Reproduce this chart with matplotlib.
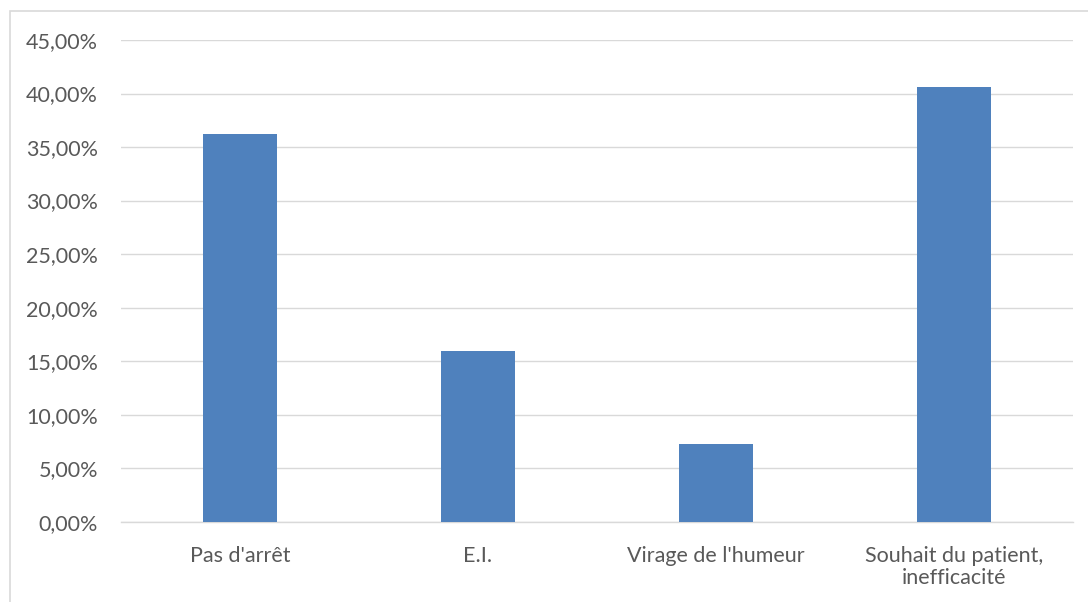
import matplotlib
matplotlib.use("Agg")
import matplotlib.pyplot as plt
from matplotlib.ticker import FuncFormatter, MultipleLocator
from matplotlib.patches import Rectangle

categories = ["Pas d'arrêt", "E.I.", "Virage de l'humeur", "Souhait du patient,\ninefficacité"]
values = [0.3623, 0.1594, 0.0725, 0.4058]

plt.rcParams['font.family'] = ['Lato', 'DejaVu Sans']

fig = plt.figure(figsize=(10.88, 6.02), dpi=100)
ax = fig.add_axes([121/1088, 80.3/602, (1073-121)/1088, (521.7-40)/602])

x = list(range(len(categories)))
ax.bar(x, values, width=0.314, color='#4F81BD', zorder=3)
ax.set_xlim(-0.5, len(categories) - 0.5)
ax.set_ylim(0, 0.45)
ax.yaxis.set_major_locator(MultipleLocator(0.05))
ax.yaxis.set_major_formatter(FuncFormatter(lambda v, p: f"{v*100:.2f}".replace('.', ',') + "%"))
ax.grid(axis='y', color='#D9D9D9', linewidth=1.0, zorder=0)
for s in ['top', 'right', 'left']:
    ax.spines[s].set_visible(False)
ax.spines['bottom'].set_color('#D9D9D9')
ax.spines['bottom'].set_linewidth(1.0)
ax.set_xticks(x)
ax.set_xticklabels(categories, fontsize=15.5, color='#595959', linespacing=1.12)
ax.tick_params(axis='x', length=0, pad=17.5)
ax.tick_params(axis='y', length=0, labelsize=15.5, labelcolor='#595959', pad=16.5)

# outer chart border (cropped at right/bottom)
fig.patches.append(Rectangle((10/1088, -0.1), 1.2, (602-11)/602 + 0.1, transform=fig.transFigure,
                             fill=False, edgecolor='#D9D9D9', linewidth=1.2))

fig.savefig("out.png", dpi=100)
